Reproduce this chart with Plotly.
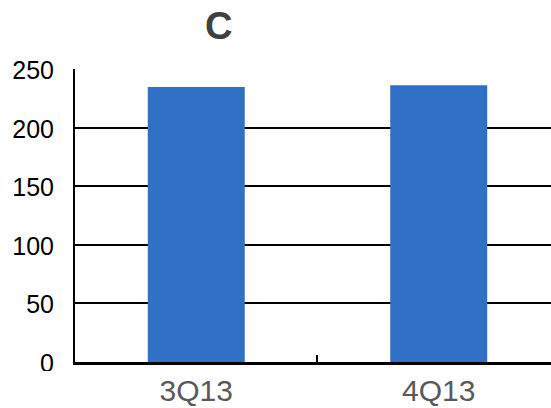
import plotly.graph_objects as go

categories = ["3Q13", "4Q13"]
values = [235, 236.5]
y_ticks = [0, 50, 100, 150, 200, 250]
title_text = "C"

fig = go.Figure()
fig.add_trace(go.Bar(x=categories, y=values, marker=dict(color="#3071C5", line=dict(width=0)), width=0.4))

fig.update_layout(
    width=551, height=408,
    margin=dict(l=75, r=0, t=69, b=46),
    paper_bgcolor="white", plot_bgcolor="white",
    showlegend=False,
    bargap=0.6,
    font=dict(family="Liberation Sans, Arial, sans-serif"),
    annotations=[dict(text="<b>" + title_text + "</b>", xref="paper", yref="paper",
                      x=0.3025, y=1.147, xanchor="center", yanchor="middle",
                      showarrow=False, font=dict(size=38, color="#404040"))],
    shapes=[dict(type="rect", xref="paper", yref="paper", x0=-0.16, x1=-0.02,
                 y0=-0.16, y1=-0.0307, fillcolor="white", line=dict(width=0), layer="above")],
)
fig.update_xaxes(
    range=[-0.5, 1.463], showline=True, linecolor="black", linewidth=2.5,
    showgrid=False, ticks="inside", tickson="boundaries", ticklen=7, tickwidth=1.5,
    tickcolor="black", tickfont=dict(size=30, color="#595959"), fixedrange=True,
)
fig.update_yaxes(
    range=[0, 250.4], tickvals=y_ticks, showline=True, linecolor="black", linewidth=2,
    showgrid=True, gridcolor="black", gridwidth=1.6, zeroline=False, ticks="",
    tickfont=dict(size=25, color="black"),
    ticklabelshift=1, ticklabelstandoff=14, fixedrange=True,
)

fig.write_html("out.html", config={"displayModeBar": False},
               post_script="document.body.style.margin='0';")
